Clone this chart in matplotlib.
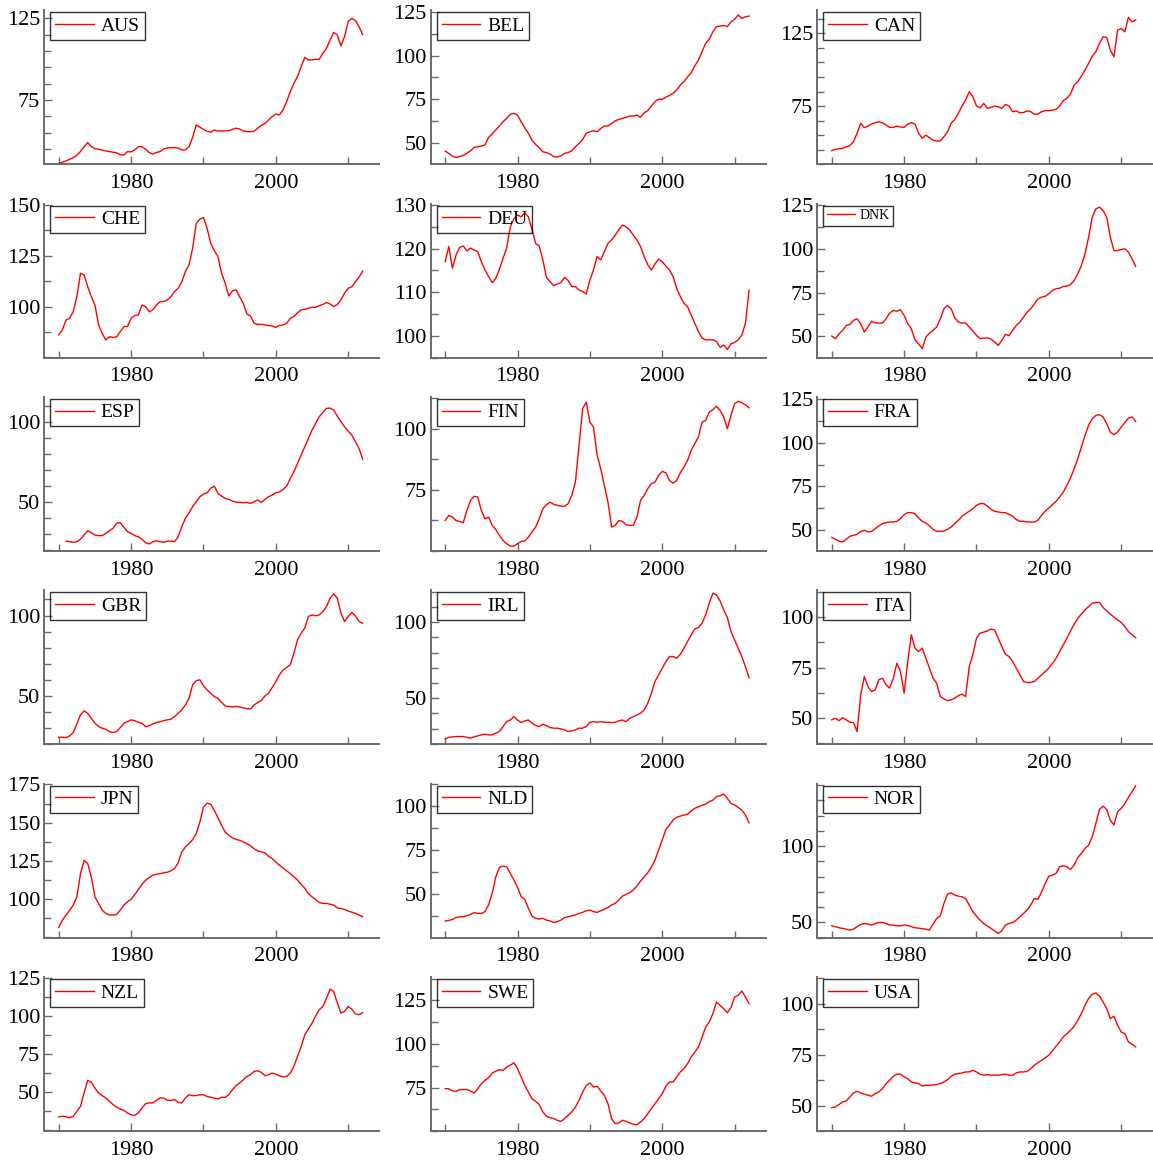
import numpy as np
import matplotlib
matplotlib.use("Agg")
import matplotlib.pyplot as plt

plt.rcParams['font.family'] = ['Liberation Serif', 'DejaVu Serif']

# half-yearly observations, 1970 to 2012
years = np.arange(1970, 2012.01, 0.5)

aus = [36.2, 36.8, 37.7, 38.7, 39.7, 41.1, 43.4, 46.4, 48.9, 46.4,
       45.2, 44.8, 44.2, 43.8, 43.4, 43.0, 42.6, 41.5, 41.3, 43.4,
       43.2, 44.4, 46.4, 46.4, 44.8, 42.8, 41.9, 42.8, 43.4, 45.0,
       45.6, 45.8, 45.8, 45.6, 44.4, 44.4, 46.4, 52.1, 59.7, 58.3,
       57.0, 55.8, 55.2, 56.6, 56.0, 56.0, 56.0, 56.2, 57.0, 57.7,
       57.2, 56.0, 55.6, 55.6, 55.8, 57.7, 59.5, 60.7, 62.8, 64.8,
       66.4, 65.8, 68.9, 74.0, 80.1, 85.2, 89.3, 95.4, 101.1, 99.5,
       99.5, 99.9, 99.9, 103.6, 106.6, 111.7, 116.4, 114.8, 108.1, 113.8,
       123.0, 125.0, 123.6, 119.9, 115.0]
bel = [45.2, 43.9, 42.3, 41.6, 42.0, 42.7, 43.9, 45.4, 47.3, 47.7,
       48.1, 48.7, 53.1, 55.0, 57.3, 59.6, 62.1, 64.0, 66.3, 66.9,
       65.9, 62.1, 58.6, 55.4, 51.5, 49.0, 47.1, 44.8, 44.3, 43.5,
       42.0, 41.8, 42.5, 43.9, 44.3, 45.4, 47.7, 49.6, 51.9, 55.4,
       56.3, 56.9, 56.3, 58.2, 59.6, 59.6, 61.1, 62.6, 63.4, 64.0,
       64.6, 65.3, 65.3, 65.9, 64.6, 67.2, 68.4, 71.1, 73.6, 75.1,
       74.9, 76.1, 77.2, 78.4, 80.3, 83.1, 85.1, 87.9, 90.2, 94.1,
       97.5, 102.3, 107.1, 109.4, 113.8, 116.7, 117.0, 117.4, 116.7, 119.5,
       120.9, 123.4, 121.5, 122.4, 122.8]
can = [44.3, 45.2, 45.6, 45.9, 47.0, 47.7, 50.5, 56.2, 63.1, 60.1,
       61.2, 62.6, 63.5, 64.2, 63.5, 61.9, 60.3, 60.3, 61.2, 60.6,
       60.3, 62.6, 63.5, 62.6, 56.2, 52.8, 55.0, 53.2, 51.6, 50.9,
       51.1, 53.9, 57.3, 63.1, 65.8, 70.0, 75.0, 79.1, 84.9, 81.4,
       75.0, 73.9, 76.8, 73.4, 74.1, 75.0, 74.5, 73.4, 76.1, 75.0,
       71.1, 71.6, 70.4, 70.6, 71.6, 71.1, 69.3, 69.5, 71.1, 71.8,
       71.8, 72.2, 72.7, 75.0, 78.7, 80.3, 83.3, 89.4, 91.7, 95.6,
       99.8, 104.4, 109.4, 112.4, 118.1, 122.7, 122.2, 113.5, 108.9, 127.3,
       128.4, 126.1, 136.0, 133.0, 134.2]
che = [86.1, 88.5, 93.4, 94.3, 97.5, 104.9, 116.4, 115.6, 109.8, 104.9,
       100.8, 91.0, 86.9, 83.6, 85.2, 84.8, 85.2, 87.7, 90.2, 90.2,
       94.3, 95.6, 95.9, 100.8, 100.0, 97.5, 98.4, 100.8, 102.5, 102.5,
       103.3, 104.9, 107.4, 109.0, 112.3, 117.2, 120.5, 128.7, 141.0, 143.0,
       143.8, 138.5, 131.1, 127.5, 124.6, 116.4, 111.5, 105.2, 107.7, 108.2,
       104.9, 101.6, 96.4, 95.4, 91.8, 91.3, 91.3, 91.0, 90.7, 90.5,
       89.8, 90.7, 91.0, 91.8, 94.3, 95.1, 97.0, 98.4, 98.7, 99.2,
       99.7, 99.7, 100.5, 101.1, 102.0, 101.3, 100.0, 101.1, 103.3, 106.6,
       109.0, 109.8, 112.3, 114.4, 117.5]
deu = [117.0, 120.5, 115.5, 118.5, 120.3, 120.6, 119.5, 120.1, 119.7, 119.3,
       117.0, 115.1, 113.6, 112.2, 113.2, 115.3, 117.8, 120.1, 125.0, 126.9,
       127.7, 127.3, 128.2, 127.3, 124.4, 121.2, 120.6, 117.4, 113.4, 112.4,
       111.5, 111.9, 112.2, 113.4, 112.7, 111.3, 111.3, 110.5, 110.2, 109.6,
       112.8, 115.1, 118.2, 117.4, 119.3, 121.2, 122.0, 123.1, 124.3, 125.4,
       125.0, 124.3, 123.1, 122.0, 120.5, 118.2, 116.3, 115.1, 116.5, 117.6,
       117.0, 116.0, 115.1, 113.6, 110.9, 109.0, 107.5, 106.7, 104.8, 102.9,
       101.0, 99.5, 99.1, 99.1, 99.1, 98.7, 97.4, 97.9, 96.9, 98.2,
       98.5, 99.1, 100.2, 102.9, 110.5]
dnk = [50.0, 48.5, 51.3, 53.3, 56.1, 56.7, 59.0, 59.9, 57.1, 52.3,
       55.2, 58.6, 57.5, 57.5, 57.5, 59.9, 63.2, 64.7, 64.3, 65.1,
       61.9, 57.1, 54.2, 47.9, 45.6, 42.7, 49.4, 51.7, 53.3, 55.2,
       59.9, 65.7, 67.6, 65.7, 60.5, 58.0, 57.5, 57.5, 55.2, 52.9,
       50.4, 48.5, 48.9, 48.9, 48.3, 46.6, 44.6, 47.5, 51.0, 50.2,
       53.3, 56.1, 58.0, 60.9, 63.8, 65.7, 68.5, 71.4, 72.4, 72.8,
       74.3, 76.2, 77.2, 77.5, 78.5, 78.7, 79.6, 81.9, 85.8, 90.5,
       97.2, 106.8, 118.3, 123.0, 124.0, 122.1, 118.3, 106.8, 99.1, 99.1,
       99.7, 100.1, 98.2, 94.4, 90.0]
esp = [np.nan, np.nan, 25.8, 25.4, 25.0, 25.4, 26.9, 29.6, 32.3, 31.0,
       29.6, 29.2, 29.2, 30.6, 32.3, 33.8, 36.9, 37.3, 34.4, 31.7,
       30.6, 29.2, 28.5, 26.9, 24.8, 24.0, 25.4, 26.0, 25.4, 25.0,
       25.8, 25.8, 25.4, 28.5, 34.8, 40.0, 43.5, 47.3, 50.4, 53.5,
       55.2, 56.0, 58.8, 60.2, 55.6, 54.0, 52.5, 51.9, 50.8, 50.2,
       50.0, 49.8, 50.0, 49.4, 50.4, 51.5, 50.0, 51.9, 53.5, 54.6,
       56.0, 56.5, 58.1, 60.2, 65.0, 69.2, 74.4, 79.6, 84.8, 90.0,
       95.2, 99.4, 103.5, 106.3, 108.8, 109.0, 107.7, 104.0, 100.4, 97.3,
       94.6, 92.1, 87.9, 83.8, 77.0]
fin = [62.4, 64.5, 63.8, 62.4, 62.0, 61.5, 66.5, 70.6, 72.3, 72.0,
       66.5, 63.1, 63.8, 60.4, 58.7, 56.3, 54.2, 52.9, 51.9, 51.9,
       52.9, 53.8, 54.0, 55.6, 57.7, 59.7, 63.1, 67.2, 68.9, 69.9,
       69.0, 68.6, 68.3, 68.2, 69.3, 72.7, 78.1, 93.2, 108.2, 110.9,
       102.7, 100.7, 89.1, 83.6, 76.8, 69.9, 59.7, 60.4, 62.4, 62.0,
       60.7, 60.4, 60.4, 63.8, 70.6, 72.7, 75.4, 77.5, 78.1, 80.9,
       82.5, 82.0, 78.8, 77.7, 78.8, 82.0, 84.3, 87.0, 91.1, 93.9,
       96.6, 102.7, 103.4, 106.8, 107.8, 109.2, 107.5, 104.8, 100.0, 105.5,
       110.2, 111.2, 110.7, 109.8, 108.6]
fra = [45.6, 44.4, 43.3, 42.9, 44.4, 46.2, 46.7, 47.3, 49.0, 49.6,
       48.7, 49.0, 50.6, 52.1, 53.5, 54.0, 54.4, 54.4, 54.8, 56.3,
       58.6, 59.8, 59.8, 59.2, 56.7, 54.8, 53.8, 52.1, 50.2, 49.0,
       49.0, 49.2, 50.2, 51.5, 53.5, 55.4, 57.7, 59.2, 60.6, 62.1,
       64.0, 65.0, 65.0, 63.6, 61.7, 60.6, 60.2, 59.8, 59.8, 58.8,
       57.7, 55.8, 54.8, 54.8, 54.4, 54.4, 54.4, 55.4, 58.3, 60.6,
       62.5, 64.4, 66.3, 68.8, 71.7, 75.5, 79.8, 85.1, 90.9, 97.6,
       104.3, 110.1, 113.9, 115.8, 116.2, 114.9, 111.0, 106.2, 104.7, 106.2,
       109.1, 111.6, 114.3, 114.9, 112.4]
gbr = [24.3, 24.3, 24.1, 25.1, 27.2, 32.6, 38.2, 40.7, 39.2, 36.1,
       33.0, 30.9, 29.9, 29.3, 27.8, 27.2, 27.8, 30.3, 33.0, 34.0,
       35.1, 34.6, 33.6, 33.0, 30.9, 31.5, 32.6, 33.4, 34.0, 34.6,
       35.1, 35.5, 37.1, 39.2, 41.3, 44.4, 48.5, 56.8, 59.5, 60.0,
       56.2, 53.7, 51.7, 49.6, 48.5, 45.9, 43.8, 43.4, 43.2, 43.4,
       43.2, 42.5, 42.1, 41.9, 44.4, 45.9, 47.1, 50.0, 51.7, 55.2,
       58.9, 63.1, 66.2, 67.8, 69.3, 76.6, 84.9, 89.0, 92.1, 99.4,
       100.4, 99.8, 100.4, 102.5, 105.6, 110.8, 113.5, 110.8, 101.5, 96.3,
       99.4, 101.9, 99.8, 96.3, 95.2]
irl = [23.2, 24.3, 24.6, 24.8, 24.8, 24.8, 24.3, 23.7, 24.6, 25.2,
       25.9, 26.3, 25.9, 25.9, 27.0, 28.1, 31.4, 34.6, 35.7, 37.9,
       35.7, 34.0, 35.1, 35.7, 33.6, 32.0, 31.4, 32.9, 32.0, 30.7,
       30.3, 30.3, 29.8, 29.2, 28.1, 28.5, 29.2, 30.3, 30.3, 31.4,
       34.2, 34.6, 34.2, 34.6, 34.2, 34.2, 34.0, 34.2, 35.1, 35.7,
       34.6, 36.8, 37.9, 39.0, 40.1, 42.3, 46.7, 53.3, 61.0, 65.4,
       69.7, 74.1, 77.4, 77.4, 76.3, 78.9, 82.9, 87.3, 91.7, 95.6,
       96.5, 99.3, 104.8, 112.5, 119.1, 118.0, 114.0, 108.1, 103.1, 93.9,
       88.4, 82.9, 77.4, 70.8, 63.5]
ita = [49.2, 50.0, 48.8, 50.3, 49.2, 48.0, 47.9, 43.4, 61.6, 70.6,
       65.7, 63.2, 64.0, 69.0, 69.8, 66.5, 64.9, 69.8, 77.2, 73.1,
       62.4, 78.1, 91.3, 84.7, 83.0, 84.7, 79.7, 74.8, 69.8, 67.3,
       60.7, 59.6, 58.7, 59.1, 59.9, 61.2, 61.9, 60.7, 75.6, 81.4,
       89.6, 92.1, 92.6, 93.2, 94.1, 93.7, 89.6, 85.5, 81.7, 80.5,
       78.1, 74.8, 71.5, 68.2, 67.7, 67.7, 68.2, 69.8, 71.5, 73.1,
       74.8, 77.2, 79.7, 83.0, 86.3, 89.6, 93.2, 96.5, 99.5, 101.5,
       103.6, 105.3, 106.9, 107.3, 107.3, 104.8, 103.1, 101.5, 100.0, 98.7,
       97.4, 95.4, 92.9, 91.3, 89.9]
jpn = [81.5, 86.3, 89.6, 92.8, 96.1, 101.5, 116.7, 125.4, 123.3, 114.6,
       101.5, 97.2, 92.8, 90.7, 89.6, 89.6, 90.0, 92.8, 96.1, 98.3,
       100.0, 103.0, 106.3, 109.6, 112.4, 114.1, 115.7, 116.3, 116.7, 117.2,
       117.6, 118.5, 120.0, 123.7, 130.9, 134.1, 136.3, 138.9, 142.8, 150.4,
       160.2, 162.8, 162.0, 158.0, 153.3, 148.3, 143.9, 141.7, 140.0, 139.1,
       138.5, 137.4, 136.3, 134.8, 133.0, 131.5, 130.9, 130.2, 128.0, 126.5,
       124.3, 122.2, 120.4, 118.5, 116.7, 114.6, 112.4, 109.8, 107.0, 103.7,
       101.5, 99.8, 97.8, 97.2, 97.2, 96.7, 96.1, 94.3, 93.9, 93.3,
       92.2, 91.5, 90.7, 89.6, 88.5]
nld = [34.7, 35.0, 35.6, 36.7, 37.1, 37.1, 37.7, 38.4, 39.4, 39.0,
       39.0, 40.0, 43.8, 50.4, 59.8, 65.2, 65.9, 65.5, 61.7, 58.0,
       53.8, 48.5, 47.0, 41.9, 37.5, 36.2, 35.8, 36.2, 35.2, 34.7,
       33.9, 34.3, 35.2, 36.6, 37.1, 37.7, 38.1, 39.0, 39.6, 40.5,
       40.9, 40.0, 39.6, 40.5, 41.3, 42.4, 43.8, 44.7, 46.6, 48.9,
       49.8, 50.8, 52.3, 54.5, 57.4, 59.8, 62.1, 65.2, 69.3, 75.0,
       80.7, 86.7, 89.2, 92.0, 93.6, 94.3, 94.9, 95.3, 97.3, 98.7,
       99.6, 100.4, 101.1, 102.5, 103.4, 105.3, 105.9, 106.8, 104.4, 101.5,
       100.6, 99.2, 97.7, 94.9, 90.5]
nor = [47.8, 47.2, 46.5, 46.1, 45.6, 45.0, 45.6, 47.2, 48.7, 49.3,
       48.9, 48.3, 49.3, 50.0, 50.0, 49.3, 48.3, 48.3, 47.8, 47.8,
       48.3, 48.0, 47.2, 46.5, 46.3, 45.9, 45.6, 45.0, 48.9, 52.6,
       54.4, 62.4, 68.6, 69.4, 67.9, 67.2, 66.8, 65.7, 61.4, 57.0,
       54.1, 51.5, 49.3, 47.6, 46.1, 44.5, 42.8, 44.5, 48.3, 49.3,
       50.0, 51.5, 53.7, 55.9, 58.1, 61.4, 65.7, 65.1, 70.1, 75.5,
       80.3, 81.0, 82.1, 86.5, 87.1, 86.5, 84.7, 87.6, 92.6, 95.2,
       98.5, 100.7, 106.1, 114.8, 124.0, 126.2, 124.0, 117.0, 113.8, 122.5,
       124.7, 127.9, 131.9, 135.6, 139.5]
nzl = [33.6, 34.0, 33.6, 33.1, 34.0, 37.3, 40.6, 49.3, 57.7, 56.4,
       52.6, 49.3, 47.6, 46.1, 43.9, 41.7, 40.1, 38.8, 37.9, 36.2,
       34.9, 34.6, 36.2, 39.5, 42.3, 42.8, 42.8, 44.5, 46.1, 46.1,
       44.5, 44.5, 45.0, 43.2, 42.8, 46.1, 48.2, 47.6, 47.6, 48.2,
       48.2, 47.1, 46.5, 46.1, 45.4, 46.5, 46.5, 48.2, 51.5, 54.2,
       55.9, 58.1, 60.3, 61.4, 63.6, 64.0, 62.9, 60.7, 61.4, 62.5,
       61.8, 60.7, 59.9, 60.3, 62.5, 66.9, 73.5, 80.0, 87.7, 91.4,
       95.4, 100.2, 104.2, 106.4, 111.8, 117.8, 116.2, 108.6, 102.0, 103.1,
       106.4, 104.6, 101.5, 100.9, 102.4]
swe = [74.4, 74.4, 73.1, 72.9, 73.9, 73.9, 73.9, 73.1, 71.9, 74.4,
       77.3, 79.2, 80.7, 83.4, 84.4, 85.3, 84.9, 86.8, 87.8, 89.3,
       85.9, 81.1, 76.3, 72.5, 68.7, 67.2, 65.3, 61.1, 58.6, 57.8,
       57.3, 56.3, 55.7, 57.3, 59.2, 61.1, 63.9, 67.7, 72.5, 76.3,
       77.7, 75.4, 75.8, 73.1, 70.6, 65.8, 57.3, 54.4, 54.8, 56.3,
       55.7, 54.8, 54.0, 53.8, 55.3, 57.3, 60.1, 63.0, 65.8, 68.7,
       71.6, 75.8, 78.2, 78.2, 81.1, 84.0, 85.9, 88.7, 92.6, 95.4,
       98.3, 103.8, 109.7, 112.6, 117.4, 124.0, 122.1, 120.2, 117.9, 120.8,
       126.9, 127.9, 130.3, 126.9, 123.1]
usa = [49.0, 49.3, 50.5, 51.8, 52.3, 54.2, 56.2, 57.0, 56.2, 55.6,
       55.1, 54.6, 55.9, 56.7, 58.3, 60.8, 62.4, 64.4, 65.4, 65.4,
       64.1, 63.2, 61.6, 61.1, 60.8, 59.6, 60.0, 60.0, 60.1, 60.3,
       60.8, 61.6, 62.7, 64.4, 65.4, 65.7, 66.0, 66.5, 66.5, 67.3,
       66.5, 65.4, 64.9, 65.2, 64.9, 64.9, 64.9, 65.2, 65.4, 64.9,
       64.9, 66.0, 66.5, 66.5, 66.8, 68.1, 69.8, 71.1, 72.2, 73.4,
       74.7, 76.8, 79.1, 81.2, 83.7, 85.3, 86.9, 88.9, 91.8, 95.1,
       99.2, 102.5, 104.6, 105.2, 103.6, 100.8, 97.5, 92.6, 93.8, 89.4,
       86.1, 85.3, 81.2, 80.1, 78.8]

countries = ['AUS', 'BEL', 'CAN', 'CHE', 'DEU', 'DNK', 'ESP', 'FIN', 'FRA',
             'GBR', 'IRL', 'ITA', 'JPN', 'NLD', 'NOR', 'NZL', 'SWE', 'USA']
series = [aus, bel, can, che, deu, dnk, esp, fin, fra,
          gbr, irl, ita, jpn, nld, nor, nzl, swe, usa]

# y range and labelled ticks for each panel
ylims = {'AUS': (35.6, 129.9), 'BEL': (37.6, 126.1), 'CAN': (34.9, 140.9),
         'CHE': (74.9, 150.6), 'DEU': (95.0, 130.3), 'DNK': (37.6, 126.0),
         'ESP': (19.6, 115.9), 'FIN': (49.9, 113.0), 'FRA': (37.7, 126.4),
         'GBR': (19.9, 115.7), 'IRL': (19.7, 121.0), 'ITA': (37.1, 113.3),
         'JPN': (74.8, 175.5), 'NLD': (25.2, 112.7), 'NOR': (40.0, 140.9),
         'NZL': (24.1, 125.6), 'SWE': (50.0, 138.2), 'USA': (37.4, 112.9)}
yticks = {'AUS': [75, 125], 'BEL': [50, 75, 100, 125], 'CAN': [75, 125],
          'CHE': [100, 125, 150], 'DEU': [100, 110, 120, 130],
          'DNK': [50, 75, 100, 125], 'ESP': [50, 100], 'FIN': [75, 100],
          'FRA': [50, 75, 100, 125], 'GBR': [50, 100], 'IRL': [50, 100],
          'ITA': [50, 75, 100], 'JPN': [100, 125, 150, 175],
          'NLD': [50, 75, 100], 'NOR': [50, 100], 'NZL': [50, 75, 100, 125],
          'SWE': [75, 100, 125], 'USA': [50, 75, 100]}
# minor tick spacing keyed by the spacing of the labelled ticks
minor_step = {50: 10, 25: 12.5, 10: 5}

W, H = 1153, 1160
col_left = [44.3, 430.7, 817.3]
row_bottom = [164.3, 357.7, 551.0, 744.3, 937.7, 1131.3]
ax_w, ax_h = 335, 154
axis_grey = '#6a6a6a'

fig = plt.figure(figsize=(W / 100, H / 100), dpi=100)

for i, (name, vals) in enumerate(zip(countries, series)):
    r, c = divmod(i, 3)
    ax = fig.add_axes([col_left[c] / W, 1 - row_bottom[r] / H, ax_w / W, ax_h / H])
    ax.plot(years, vals, color='red', lw=1.0, label=name)

    lo, hi = ylims[name]
    ax.set_xlim(1968.0, 2014.3)
    ax.set_ylim(lo, hi)

    maj = yticks[name]
    step = minor_step[maj[1] - maj[0]]
    first = maj[0] - step * np.floor((maj[0] - lo) / step)
    ax.set_yticks(maj)
    ax.set_yticks(np.arange(first, hi + 1e-6, step), minor=True)
    ax.set_xticks([1980, 2000])
    ax.set_xticks([1970, 1990, 2010], minor=True)

    for side in ('top', 'right'):
        ax.spines[side].set_visible(False)
    for side in ('left', 'bottom'):
        ax.spines[side].set_color(axis_grey)
        ax.spines[side].set_linewidth(1.4)
    ax.tick_params(which='both', direction='in', color=axis_grey, width=1.0)
    ax.tick_params(which='major', length=6)
    ax.tick_params(which='minor', length=5)
    ax.tick_params(axis='y', which='major', labelsize=16, pad=3)
    ax.tick_params(axis='x', which='major', labelsize=16, pad=7)

    fs = 10 if name == 'DNK' else 14
    leg = ax.legend(loc='upper left', bbox_to_anchor=(6 / ax_w, 1 - 2 / ax_h),
                    borderaxespad=0, fancybox=False, fontsize=fs,
                    handlelength=2.0, handletextpad=0.35, borderpad=0.25)
    frame = leg.get_frame()
    frame.set_edgecolor('black')
    frame.set_facecolor('none')
    frame.set_linewidth(1.0)

fig.savefig('out.png', dpi=100, facecolor='white')
